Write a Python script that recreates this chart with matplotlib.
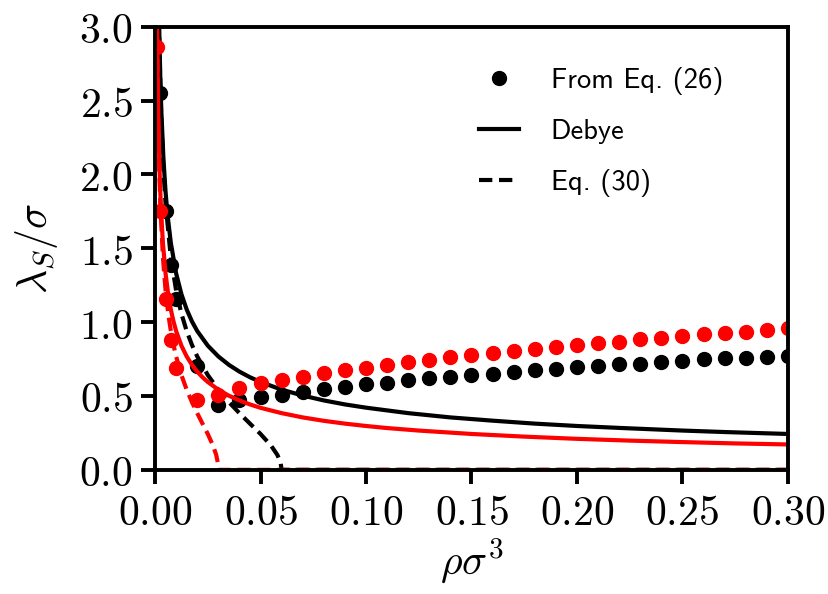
import matplotlib
matplotlib.use("Agg")
import matplotlib.pyplot as plt
from matplotlib.ticker import FuncFormatter, MultipleLocator

plt.rcParams['mathtext.fontset'] = 'cm'

# densities of the sampled points (same for both series)
rho_pts = [0.001, 0.0025, 0.005, 0.0075, 0.01, 0.02, 0.03, 0.04, 0.05, 0.06, 0.07, 0.08,
           0.09, 0.10, 0.11, 0.12, 0.13, 0.14, 0.15, 0.16, 0.17, 0.18, 0.19, 0.20,
           0.21, 0.22, 0.23, 0.24, 0.25, 0.26, 0.27, 0.28, 0.29, 0.30]
# From Eq. (26), black series
lam_black = [4.0, 2.55, 1.75, 1.39, 1.16, 0.70, 0.44, 0.47, 0.49, 0.51, 0.53, 0.55,
             0.56, 0.58, 0.59, 0.61, 0.62, 0.63, 0.64, 0.65, 0.66, 0.675, 0.685, 0.695,
             0.705, 0.715, 0.72, 0.73, 0.74, 0.75, 0.755, 0.76, 0.765, 0.77]
# From Eq. (26), red series
lam_red = [2.86, 1.75, 1.16, 0.88, 0.69, 0.47, 0.51, 0.553, 0.587, 0.609, 0.631, 0.654,
           0.677, 0.692, 0.71, 0.729, 0.744, 0.763, 0.778, 0.79, 0.807, 0.819, 0.834, 0.846,
           0.857, 0.868, 0.884, 0.895, 0.907, 0.918, 0.929, 0.936, 0.947, 0.959]

# Debye curves
rho_deb_black = [0.0019, 0.0025, 0.003, 0.004, 0.005, 0.006, 0.0075, 0.01, 0.0125, 0.015,
                 0.0175, 0.02, 0.025, 0.03, 0.035, 0.04, 0.045, 0.05, 0.06, 0.07, 0.08,
                 0.09, 0.10, 0.12, 0.14, 0.16, 0.18, 0.20, 0.22, 0.25, 0.27, 0.30]
deb_black = [3.05, 2.66, 2.428, 2.103, 1.881, 1.717, 1.536, 1.33, 1.19, 1.086,
             1.005, 0.94, 0.841, 0.768, 0.711, 0.665, 0.627, 0.595, 0.543, 0.503, 0.47,
             0.443, 0.421, 0.384, 0.355, 0.333, 0.313, 0.297, 0.284, 0.266, 0.256, 0.243]
rho_deb_red = [0.00095, 0.00125, 0.0015, 0.002, 0.0025, 0.003, 0.00375, 0.005, 0.00625,
               0.0075, 0.00875, 0.01, 0.0125, 0.015, 0.0175, 0.02, 0.0225, 0.025, 0.03,
               0.035, 0.04, 0.045, 0.05, 0.06, 0.07, 0.08, 0.09, 0.10, 0.11, 0.125, 0.15,
               0.175, 0.20, 0.225, 0.25, 0.275, 0.30]
deb_red = [3.05, 2.658, 2.427, 2.102, 1.88, 1.716, 1.535, 1.329, 1.189,
           1.085, 1.005, 0.94, 0.841, 0.768, 0.711, 0.665, 0.627, 0.595, 0.543,
           0.502, 0.47, 0.443, 0.42, 0.384, 0.355, 0.332, 0.313, 0.297, 0.283, 0.266, 0.243,
           0.225, 0.21, 0.198, 0.188, 0.179, 0.172]

# Eq. (30) curves
rho_eq30_black = [0.002, 0.0025, 0.003, 0.004, 0.005, 0.0075, 0.01, 0.0125, 0.015, 0.0175,
                  0.02, 0.025, 0.03, 0.035, 0.04, 0.045, 0.05, 0.055, 0.058, 0.0595, 0.06, 0.30]
eq30_black = [2.924, 2.604, 2.367, 2.031, 1.801, 1.437, 1.214, 1.058, 0.94, 0.846,
              0.768, 0.642, 0.543, 0.459, 0.384, 0.313, 0.243, 0.164, 0.101, 0.05, 0.0, 0.0]
rho_eq30_red = [0.001, 0.00125, 0.0015, 0.002, 0.0025, 0.00375, 0.005, 0.00625, 0.0075,
                0.00875, 0.01, 0.0125, 0.015, 0.0175, 0.02, 0.0225, 0.025, 0.0275, 0.029,
                0.02975, 0.03, 0.30]
eq30_red = [2.923, 2.603, 2.366, 2.031, 1.80, 1.436, 1.214, 1.058, 0.94,
            0.846, 0.768, 0.642, 0.543, 0.459, 0.384, 0.313, 0.243, 0.164, 0.101,
            0.05, 0.0, 0.0]

fig = plt.figure(figsize=(8.29, 5.94), dpi=100)
ax = fig.add_axes([0.187, 0.209, 0.7635, 0.746])

lw = 3.0
ax.plot(rho_pts, lam_black, 'o', color='black', ms=10, label='From Eq. (26)')
ax.plot(rho_deb_black, deb_black, '-', color='black', lw=lw, label='Debye')
ax.plot(rho_eq30_black, eq30_black, '--', color='black', lw=lw, dashes=(3.2, 1.6),
        label='Eq. (30)')
ax.plot(rho_pts, lam_red, 'o', color='red', ms=10)
ax.plot(rho_deb_red, deb_red, '-', color='red', lw=lw)
ax.plot(rho_eq30_red, eq30_red, '--', color='red', lw=lw, dashes=(3.2, 1.6))

ax.set_xlim(0, 0.30)
ax.set_ylim(0, 3.0)
ax.xaxis.set_major_locator(MultipleLocator(0.05))
ax.yaxis.set_major_locator(MultipleLocator(0.5))
ax.xaxis.set_major_formatter(FuncFormatter(lambda v, _: f'${v:.2f}$'))
ax.yaxis.set_major_formatter(FuncFormatter(lambda v, _: f'${v:.1f}$'))
ax.tick_params(direction='out', length=10, width=2.8, labelsize=30, pad=6)
for s in ax.spines.values():
    s.set_linewidth(2.8)

ax.set_xlabel(r'$\rho\sigma^3$', fontsize=30, labelpad=2)
ax.set_ylabel(r'$\lambda_S/\sigma$', fontsize=30, labelpad=14)

leg = ax.legend(loc='upper left', bbox_to_anchor=(0.472, 0.968), frameon=False,
                prop={'family': 'cmss10', 'size': 20.5}, handlelength=1.4,
                handletextpad=1.1, labelspacing=0.86)

fig.savefig('out.png', dpi=100)
